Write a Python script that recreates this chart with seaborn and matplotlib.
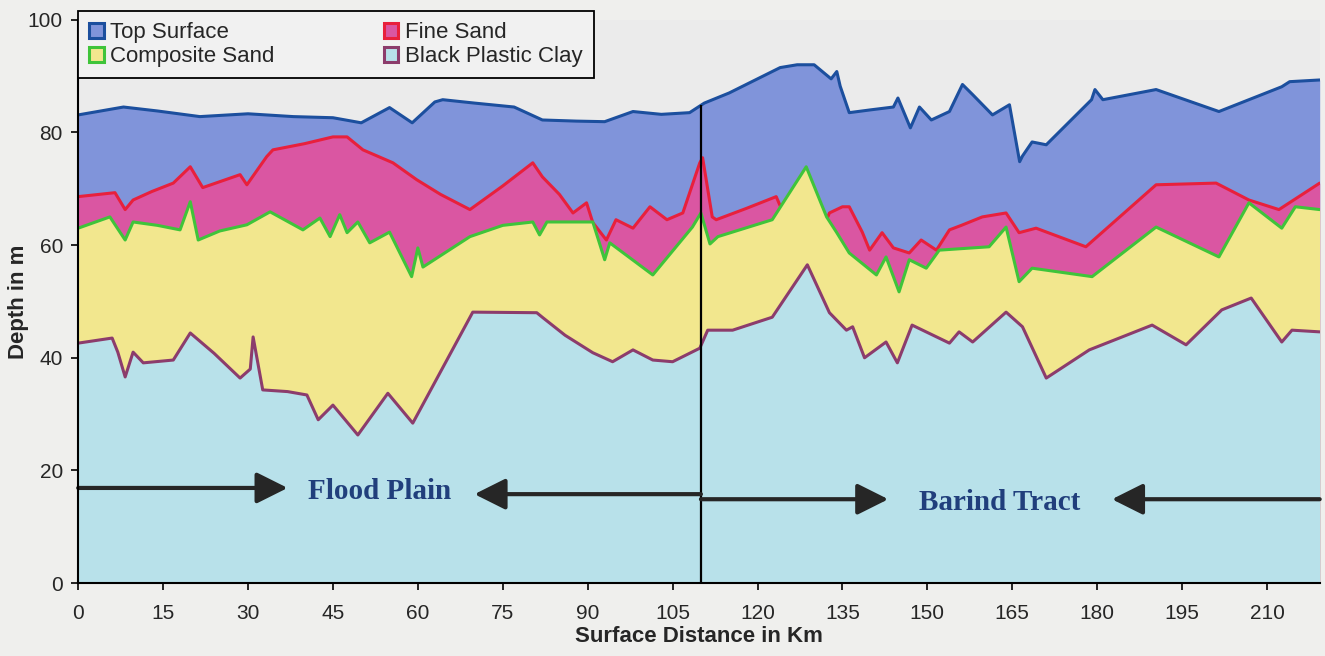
import numpy as np
import pandas as pd
import seaborn as sns
import matplotlib.pyplot as plt
from matplotlib.patches import Patch

# --- data (km, depth in m) ---
top_km = [0, 8, 14, 21.5, 30, 38, 45, 50, 55, 59, 63, 64.4, 70, 77, 82, 88, 93, 98, 103, 108,
          110.6, 115, 119, 124, 127, 130, 133, 134, 134.6, 136.2, 140, 144, 144.8, 147, 148.6,
          150.7, 153.9, 156.2, 158, 161.5, 164.5, 166.3, 166.8, 168.5, 171, 179, 179.6, 181,
          190.4, 201.5, 212.6, 214, 219.3]
top_m = [83.1, 84.5, 83.8, 82.8, 83.3, 82.8, 82.6, 81.7, 84.4, 81.7, 85.4, 85.8, 85.2, 84.5, 82.2,
         82.0, 81.9, 83.7, 83.2, 83.5, 85.2, 87.0, 89.0, 91.5, 92.0, 92.0, 89.5, 90.8, 88.2, 83.5,
         84.0, 84.5, 86.1, 80.8, 84.5, 82.2, 83.7, 88.5, 86.7, 83.1, 84.9, 74.8, 75.8, 78.3, 77.8,
         85.8, 87.6, 85.8, 87.6, 83.7, 88.1, 89.0, 89.3]

fine_km = [0, 6.5, 8.3, 9.7, 13, 16.8, 19.8, 22, 28.6, 29.8, 33.3, 34.4, 40, 45, 47.5, 50.3,
           55.6, 59.8, 64, 69.2, 75, 80.3, 82, 85, 87.4, 89.8, 90.9, 93.3, 95, 98, 101, 104,
           106.8, 109.8, 110.3, 112, 112.7, 118, 123.3, 124.2, 128.6, 132.2, 132.7, 135, 136.2,
           138.5, 139.8, 142, 144, 146.8, 148.9, 151.6, 153.9, 156, 159.7, 163.9, 166.2, 169.2,
           178, 190.4, 201, 206.8, 212.1, 219.3]
fine_m = [68.6, 69.3, 66.3, 68.0, 69.5, 71.0, 73.9, 70.2, 72.5, 70.7, 75.7, 76.9, 78.0, 79.2, 79.2,
          76.9, 74.6, 71.6, 69.0, 66.3, 70.5, 74.6, 72.1, 69.0, 65.7, 67.5, 64.0, 60.9, 64.5, 63.0,
          66.8, 64.5, 65.7, 74.6, 75.5, 65.0, 64.5, 66.5, 68.6, 66.5, 70.0, 64.5, 65.7, 66.8, 66.8,
          62.3, 59.1, 62.2, 59.5, 58.6, 60.9, 59.1, 62.7, 63.5, 65.0, 65.7, 62.2, 63.0, 59.7, 70.7,
          71.0, 68.0, 66.3, 71.0]

comp_km = [0, 5.6, 8.3, 9.7, 14, 18, 19.8, 21.2, 25, 29.8, 33.9, 39.7, 42.7, 44.5, 46.2, 47.5,
           49.4, 51.5, 55, 58.9, 60, 60.9, 69.2, 75, 80.3, 81.5, 82.8, 90.9, 93, 93.9, 101.5,
           108.5, 110, 111.6, 113, 122.6, 128.6, 132.2, 134, 136.2, 141, 142.7, 145, 146.8, 149.8,
           152.1, 160.9, 163.9, 166.2, 168.5, 179.1, 190.4, 201.5, 206.8, 212.6, 215, 219.3]
comp_m = [63.0, 65.0, 60.9, 64.1, 63.5, 62.7, 67.7, 60.9, 62.5, 63.6, 65.9, 62.7, 64.8, 61.5, 65.4,
          62.2, 64.1, 60.4, 62.3, 54.4, 59.5, 56.1, 61.5, 63.5, 64.1, 61.8, 64.1, 64.1, 57.4, 60.4,
          54.7, 63.2, 65.7, 60.2, 61.5, 64.5, 73.9, 65.0, 62.2, 58.6, 54.7, 57.9, 51.7, 57.4, 55.9,
          59.1, 59.7, 63.2, 53.5, 55.9, 54.4, 63.2, 57.9, 67.5, 63.0, 66.8, 66.3]

clay_km = [0, 6, 7, 8.3, 9.7, 11.5, 16.8, 19.8, 24, 28.6, 30.4, 30.9, 32.6, 37, 40.4, 42.4, 45,
           49.4, 54.7, 59.1, 69.7, 81, 82.1, 86, 90.9, 94.4, 98, 101.5, 105, 109.8, 111.2, 115.6,
           122.6, 128.8, 132.7, 135.7, 136.8, 138.9, 142.7, 144.7, 147.3, 153.9, 155.6, 158,
           163.9, 166.8, 171, 178.6, 189.7, 195.7, 202, 207.2, 212.6, 214.4, 219.3]
clay_m = [42.6, 43.5, 41.0, 36.6, 41.0, 39.1, 39.6, 44.4, 40.8, 36.4, 38.0, 43.7, 34.3, 34.0, 33.4,
          29.0, 31.6, 26.3, 33.7, 28.4, 48.1, 48.0, 47.1, 44.0, 40.9, 39.3, 41.4, 39.6, 39.3, 41.7,
          44.9, 44.9, 47.2, 56.5, 48.0, 44.9, 45.5, 40.0, 42.8, 39.1, 45.8, 42.6, 44.6, 42.8, 48.1,
          45.5, 36.4, 41.4, 45.8, 42.3, 48.5, 50.6, 42.8, 44.9, 44.6]

layer_names = ["Top Surface", "Fine Sand", "Composite Sand", "Black Plastic Clay"]
boundary_km = 110
region_names = ["Flood Plain", "Barind Tract"]
region_text_km = [53.3, 162.7]
region_text_m = [16.2, 14.4]
arrow_from_km = [[0, 110], [110, 219.3]]
arrow_to_km = [[37, 70], [143.1, 182.6]]
arrow_m = [[16.9, 15.8], [14.9, 14.9]]

fills = ["#8094da", "#da56a2", "#f2e78e", "#b8e1ea"]
edges = ["#1c4f9e", "#e8203c", "#3fc43a", "#8c3c6c"]

sns.set_theme(style="ticks")
plt.rcParams['font.family'] = ['Liberation Sans', 'DejaVu Sans']

fig = plt.figure(figsize=(13.25, 6.56), dpi=100, facecolor="#efefed")
ax = fig.add_axes([0.059, 0.111, 0.937, 0.859])
ax.set_facecolor("#ebebeb")

# paint from the top layer down, each fill covering the lines above it
series = [(top_km, top_m), (fine_km, fine_m), (comp_km, comp_m), (clay_km, clay_m)]
for i, ((km, m), fc, ec) in enumerate(zip(series, fills, edges)):
    df = pd.DataFrame({"km": km, "depth": m})
    ax.fill_between(df["km"], df["depth"], 0, color=fc, lw=0, zorder=1 + 2 * i)
    sns.lineplot(data=df, x="km", y="depth", color=ec, lw=2.2, estimator=None,
                 sort=False, ax=ax, zorder=2 + 2 * i)

# divider between the two physiographic units
ax.vlines(boundary_km, 0, np.interp(boundary_km, top_km, top_m), color="black", lw=1.6, zorder=10)

for i, name in enumerate(region_names):
    ax.text(region_text_km[i], region_text_m[i], name, ha="center", va="center",
            fontsize=21, fontweight="bold", color="#213f7c",
            family=["Liberation Serif", "DejaVu Serif"], zorder=11)
    for a, b, yv in zip(arrow_from_km[i], arrow_to_km[i], arrow_m[i]):
        ax.annotate("", xy=(b, yv), xytext=(a, yv),
                    arrowprops=dict(arrowstyle="-|>,head_length=1.0,head_width=0.5",
                                    lw=3, color="#262626", mutation_scale=19,
                                    shrinkA=0, shrinkB=0), zorder=11)

ax.set_xlim(0, 219.3)
ax.set_ylim(0, 100)
ax.set_xticks(np.arange(0, 211, 15))
ax.set_yticks(np.arange(0, 101, 20))
ax.tick_params(labelsize=15, length=5, width=1.2, color="black", direction="out", pad=6)
ax.tick_params(axis="x", pad=10)
ax.set_xlabel("Surface Distance in Km", fontsize=16, fontweight="bold", labelpad=2)
ax.set_ylabel("Depth in m", fontsize=16, fontweight="bold")
ax.yaxis.set_label_coords(-0.04, 0.5)
for s in ["top", "right"]:
    ax.spines[s].set_visible(False)
for s in ["left", "bottom"]:
    ax.spines[s].set_color("black")
    ax.spines[s].set_linewidth(1.5)
    ax.spines[s].set_zorder(12)

order = [0, 2, 1, 3]
handles = [Patch(facecolor=fills[i], edgecolor=edges[i], lw=2.2) for i in order]
labels = [layer_names[i] for i in order]
leg = ax.legend(handles, labels, loc="upper left", bbox_to_anchor=(0.0, 1.015), ncol=2,
                fontsize=16, frameon=True, fancybox=False, edgecolor="black",
                facecolor="#f1f1f1", framealpha=1, handlelength=0.65, handleheight=0.65,
                handletextpad=0.3, columnspacing=4.9, labelspacing=0.12,
                borderaxespad=0, borderpad=0.5)
leg.get_frame().set_linewidth(1.3)
leg.set_zorder(20)

plt.savefig("out.png", dpi=100, facecolor=fig.get_facecolor())
